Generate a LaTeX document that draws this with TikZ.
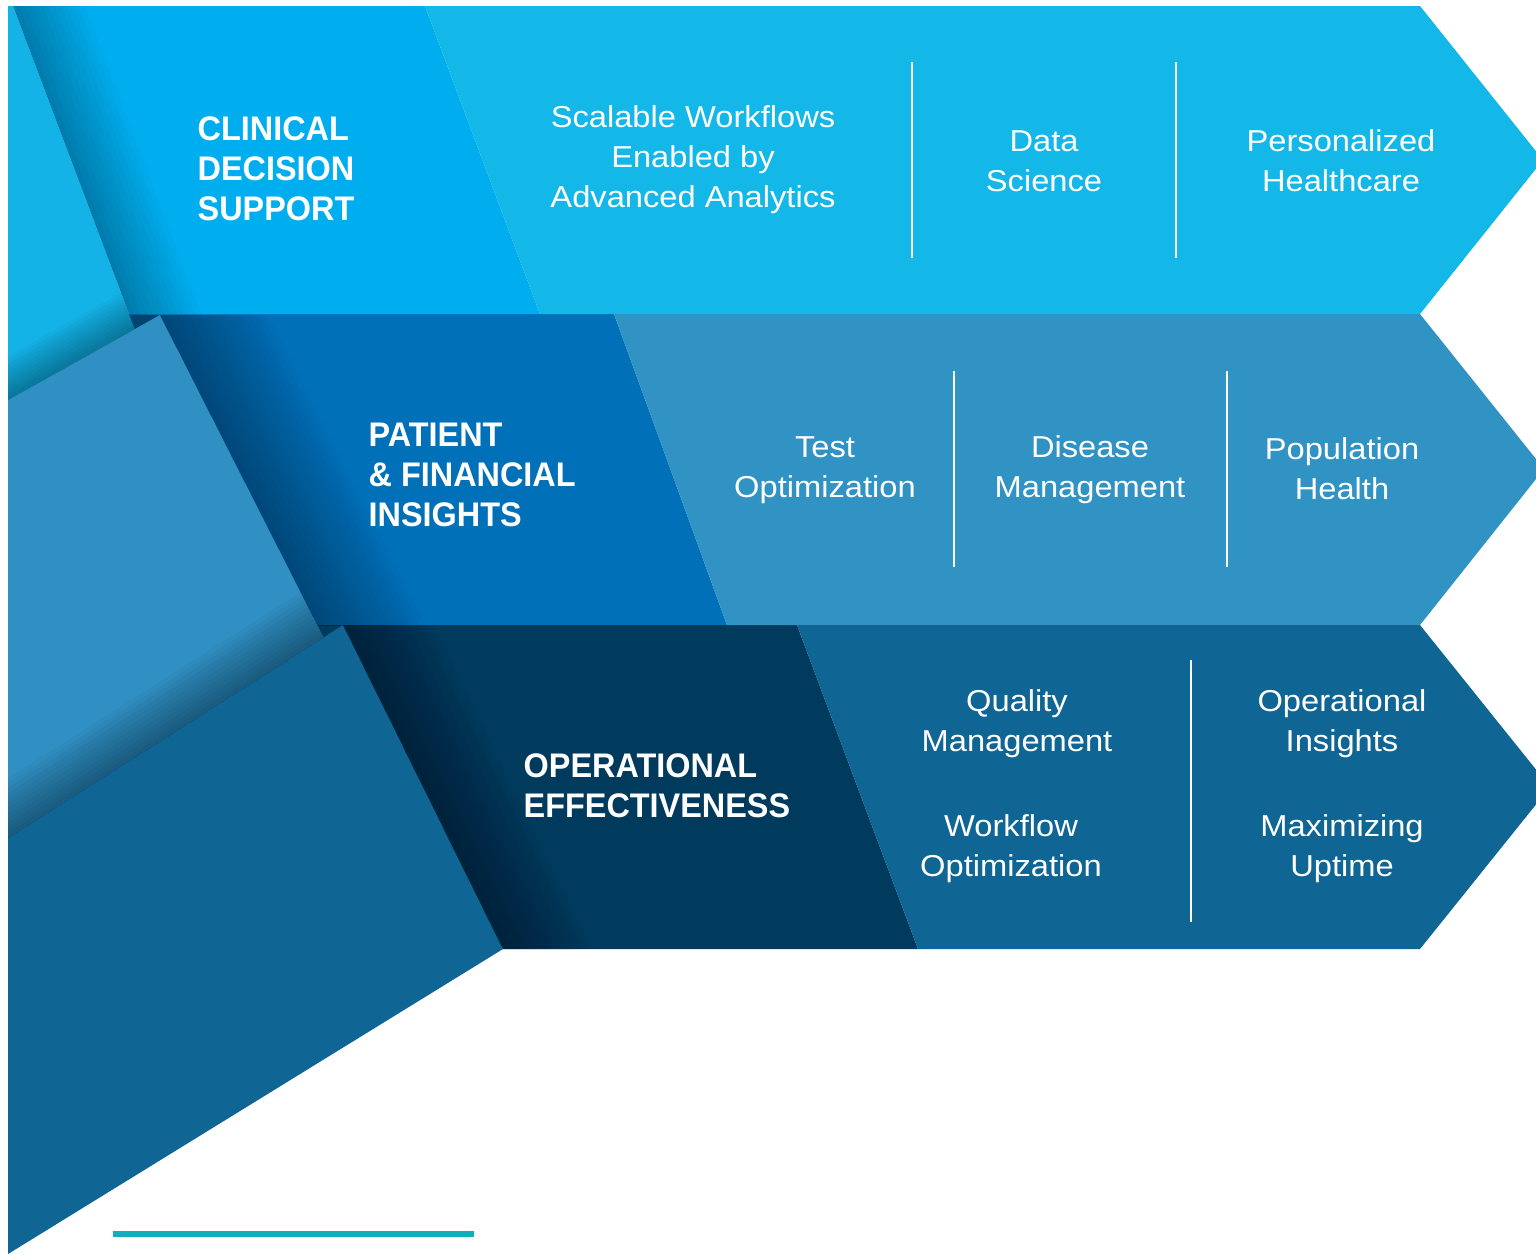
\documentclass[tikz,border=0pt]{standalone}
\usepackage{fontspec}
\setmainfont{Liberation Sans}
\newfontfamily\itemfont{Liberation Sans}[FakeStretch=1.08]
\newfontfamily\headfont{Liberation Sans}[FakeStretch=0.95]
\definecolor{cdsside}{HTML}{14B3E7}
\definecolor{cdshead}{HTML}{00AEEF}
\definecolor{cdsbody}{HTML}{13B7E8}
\definecolor{pfiside}{HTML}{3190C3}
\definecolor{pfihead}{HTML}{0070B8}
\definecolor{pfibody}{HTML}{3192C4}
\definecolor{oeside}{HTML}{0F6593}
\definecolor{oehead}{HTML}{003A5D}
\definecolor{oebody}{HTML}{0F6594}
\definecolor{tealbar}{HTML}{12AFBA}
\begin{document}
\begin{tikzpicture}[x=0.01cm,y=-0.01cm,
    head/.style={text=white,inner sep=0pt,anchor=west,align=left,
      font=\headfont\bfseries\fontsize{9.7}{11.38}\selectfont},
    item/.style={text=white,inner sep=0pt,align=center,
      font=\itemfont\fontsize{8.6}{11.38}\selectfont},
    divider/.style={draw=white,line width=0.45pt},
    shadow/.style={fill=black,opacity=0.02}]
    \fill[white] (0,0) rectangle (1536,1254);
    \useasboundingbox (0,0) rectangle (1536,1254);

    % headers (under the left panels)
    \fill[pfihead] (100,314) -- (614,314) -- (727,625) -- (300,625) -- cycle;
    \fill[pfihead!60!black] (100,314) -- (160,315) -- (175,345) -- (100,345) -- cycle;
    \fill[oehead] (300,625) -- (797,625) -- (918,949) -- (503,949) -- cycle;
    \fill[cdshead] (13,6) -- (425,6) -- (540,314) -- (129,314) -- cycle;

    % left panels
    \fill[cdsside] (8,6) -- (13,6) -- (150,370) -- (8,400) -- cycle;
    \fill[pfiside] (8,400) -- (160,315) -- (330,650) -- (8,850) -- cycle;
    \fill[oeside] (8,838) -- (343,625) -- (503,949) -- (8,1254) -- cycle;

    % arrows
    \fill[cdsbody] (425,6) -- (1420,6) -- (1543,160) -- (1420,314) -- (540,314) -- cycle;
    \fill[pfibody] (614,314) -- (1420,314) -- (1544,469) -- (1420,625) -- (727,625) -- cycle;
    \fill[oebody] (797,625) -- (1420,625) -- (1550,787) -- (1420,949) -- (918,949) -- cycle;

    % shadows
    \begin{scope}
        \clip (13,6) -- (425,6) -- (540,314) -- (129,314) -- cycle;
        \foreach \d in {6,12,...,72}
            \fill[shadow,opacity=0.024] (13,6) -- (129,314) -- (129+\d,314) -- (13+\d,6) -- cycle;
    \end{scope}
    \begin{scope}
        \clip (8,6) -- (13,6) -- (150,370) -- (8,400) -- cycle;
        \foreach \d in {4,8,...,44}
            \fill[shadow,opacity=0.03] (8,400) -- (160,315) -- (160,315-\d) -- (8,400-\d) -- cycle;
    \end{scope}
    \begin{scope}
        \clip (100,314) -- (614,314) -- (727,625) -- (300,625) -- cycle;
        \foreach \d in {6,12,...,108}
            \fill[shadow] (160,315) -- (330,650) -- (330+\d,650) -- (160+\d,315) -- cycle;
    \end{scope}
    \begin{scope}
        \clip (8,400) -- (160,315) -- (330,650) -- (8,850) -- cycle;
        \foreach \d in {5,10,...,60}
            \fill[shadow,opacity=0.03] (8,838) -- (343,625) -- (343,625-\d) -- (8,838-\d) -- cycle;
    \end{scope}
    \begin{scope}
        \clip (300,625) -- (797,625) -- (918,949) -- (503,949) -- cycle;
        \foreach \d in {6,12,...,90}
            \fill[shadow,opacity=0.025] (343,625) -- (503,949) -- (503+\d,949) -- (343+\d,625) -- cycle;
    \end{scope}

    % dividers
    \draw[divider] (912,62) -- (912,258);
    \draw[divider] (1176,62) -- (1176,258);
    \draw[divider] (954,371) -- (954,567);
    \draw[divider] (1227,371) -- (1227,567);
    \draw[divider] (1191,660) -- (1191,922);

    % texts
    \node[head] (cds) at (197,169) {CLINICAL\\DECISION\\SUPPORT};
    \node[head] (pfi) at (368,475) {PATIENT\\\& FINANCIAL\\INSIGHTS};
    \node[head] (oe) at (523,786) {OPERATIONAL\\EFFECTIVENESS};

    \node[item] (workflows) at (693,160) {Scalable Workflows\\Enabled by\\Advanced Analytics};
    \node[item] (datasci) at (1044,161) {Data\\Science};
    \node[item] (personal) at (1341,161) {Personalized\\Healthcare};

    \node[item] (testopt) at (825,470) {Test\\Optimization};
    \node[item] (disease) at (1090,470) {Disease\\Management};
    \node[item] (population) at (1342,469) {Population\\Health};

    \node[item] (quality) at (1017,724) {Quality\\Management};
    \node[item] (workflowopt) at (1011,849) {Workflow\\Optimization};
    \node[item] (opinsights) at (1342,724) {Operational\\Insights};
    \node[item] (uptime) at (1342,849) {Maximizing\\Uptime};

    \draw[tealbar,line width=1.45pt] (113,1234) -- (474,1234);
\end{tikzpicture}
\end{document}
